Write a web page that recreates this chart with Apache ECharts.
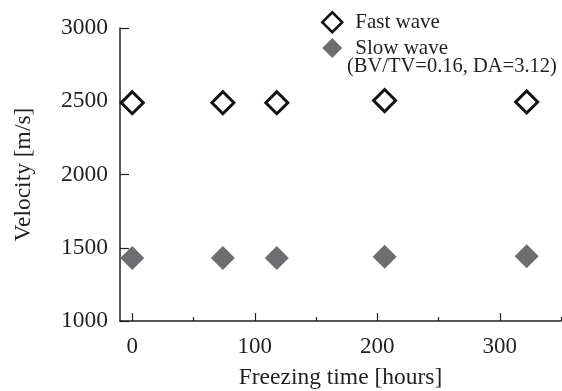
<!DOCTYPE html>
<html><head><meta charset="utf-8">
<script src="https://cdn.jsdelivr.net/npm/echarts@6/dist/echarts.min.js"></script>
<style>html,body{margin:0;padding:0;background:#fff}#c{width:562px;height:391px}</style>
</head><body><div id="c"></div>
<script>
var fastX = [0, 74, 118, 206, 322];
var fastY = [2490, 2490, 2490, 2505, 2495];
var slowX = [0, 74, 118, 206, 322];
var slowY = [1430, 1430, 1430, 1438, 1442];
var xMajor = [0, 100, 200, 300];
var xMinor = [50, 150, 250, 350];
var yTicks = [1000, 1500, 2000, 2500, 3000];
var seriesNames = ['Fast wave', 'Slow wave'];
var note = '(BV/TV=0.16, DA=3.12)';
var xTitle = 'Freezing time [hours]';
var yTitle = 'Velocity [m/s]';

var F = 'Liberation Serif, Times New Roman, serif';
var TC = '#231f20';
function pairs(xs, ys){ return xs.map(function(x,i){return [x, ys[i]];}); }

var chart = echarts.init(document.getElementById('c'), null, {renderer:'canvas'});
chart.setOption({
  animation:false,
  backgroundColor:'#fff',
  grid:{left:120, right:1, top:28, bottom:70, containLabel:false, outerBoundsMode:'none'},
  xAxis:[{
    type:'value', min:-10, max:350, position:'bottom', offset:0,
    name:xTitle, nameLocation:'middle', nameGap:45,
    nameTextStyle:{fontFamily:F, fontSize:23.5, color:TC},
    axisLine:{onZero:false, lineStyle:{color:TC, width:1.5}},
    axisTick:{show:true, inside:true, length:8, customValues:xMajor, lineStyle:{color:TC, width:1.2}},
    axisLabel:{customValues:xMajor, margin:14, fontFamily:F, fontSize:23, color:TC},
    splitLine:{show:false}
  },{
    type:'value', min:-10, max:350, position:'bottom', offset:0,
    axisLine:{show:false},
    axisTick:{show:true, inside:true, length:4, customValues:xMinor, lineStyle:{color:TC, width:1.2}},
    axisLabel:{show:false}, splitLine:{show:false}
  }],
  yAxis:{
    type:'value', min:yTicks[0], max:yTicks[yTicks.length-1], interval:500,
    name:yTitle, nameLocation:'middle', nameGap:84,
    nameTextStyle:{fontFamily:F, fontSize:23.5, color:TC},
    axisLine:{show:true, onZero:false, lineStyle:{color:TC, width:1.5}},
    axisTick:{show:true, inside:true, length:9, lineStyle:{color:TC, width:1.2}},
    axisLabel:{margin:12, fontFamily:F, fontSize:23.5, color:TC, formatter:function(v){return String(v);}},
    splitLine:{show:false}
  },
  legend:{
    orient:'vertical', left:316, top:6, itemWidth:20, itemHeight:20, itemGap:4,
    textStyle:{fontFamily:F, fontSize:21, color:TC, padding:[0,0,0,8]},
    data:[
      {name:seriesNames[0], icon:'diamond', itemStyle:{color:'#fff', borderColor:'#111', borderWidth:2.5}},
      {name:seriesNames[1], icon:'diamond', itemStyle:{color:'#6d6e71', borderWidth:0}}
    ]
  },
  graphic:[{type:'text', left:347, top:56, style:{text:note, font:'20.5px '+F, fill:TC}}],
  series:[
    {name:seriesNames[0], type:'scatter', symbol:'diamond', symbolSize:22, data:pairs(fastX, fastY),
     itemStyle:{color:'#fff', borderColor:'#111', borderWidth:3, opacity:1}},
    {name:seriesNames[1], type:'scatter', symbol:'diamond', symbolSize:24, data:pairs(slowX, slowY),
     itemStyle:{color:'#6d6e71', opacity:1}}
  ]
});
</script></body></html>
